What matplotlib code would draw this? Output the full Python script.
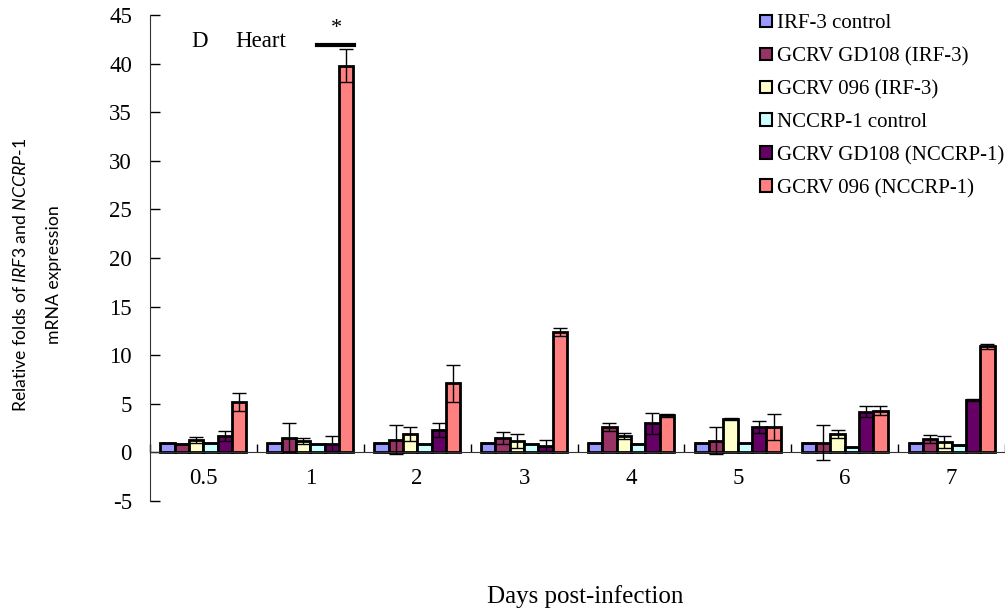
import matplotlib
matplotlib.use("Agg")
import matplotlib.pyplot as plt
import numpy as np

days = ["0.5", "1", "2", "3", "4", "5", "6", "7"]
series_names = ["IRF-3 control", "GCRV GD108 (IRF-3)", "GCRV 096 (IRF-3)",
                "NCCRP-1 control", "GCRV GD108 (NCCRP-1)", "GCRV 096 (NCCRP-1)"]
colors = ["#9999FF", "#993366", "#FFFFCC", "#CCFFFF", "#660066", "#FF8080"]

irf3_control = [1.0, 1.0, 1.0, 1.0, 1.0, 1.0, 1.0, 1.0]
gd108_irf3 = [0.9, 1.5, 1.3, 1.5, 2.6, 1.2, 1.0, 1.4]
gcrv096_irf3 = [1.3, 1.2, 1.9, 1.2, 1.7, 3.4, 1.9, 1.1]
nccrp1_control = [1.0, 0.85, 0.9, 0.9, 0.9, 1.0, 0.6, 0.8]
gd108_nccrp1 = [1.7, 0.9, 2.3, 0.7, 3.0, 2.6, 4.2, 5.4]
gcrv096_nccrp1 = [5.2, 39.8, 7.1, 12.4, 3.8, 2.6, 4.3, 10.9]

err_irf3_control = [0, 0, 0, 0, 0, 0, 0, 0]
err_gd108_irf3 = [0.0, 1.5, 1.5, 0.6, 0.4, 1.4, 1.8, 0.4]
err_gcrv096_irf3 = [0.3, 0.3, 0.7, 0.7, 0.3, 0.1, 0.4, 0.6]
err_nccrp1_control = [0, 0, 0, 0, 0, 0, 0, 0]
err_gd108_nccrp1 = [0.5, 0.8, 0.7, 0.6, 1.1, 0.6, 0.6, 0.1]
err_gcrv096_nccrp1 = [0.9, 1.7, 1.9, 0.4, 0.2, 1.3, 0.5, 0.3]

values = [irf3_control, gd108_irf3, gcrv096_irf3, nccrp1_control, gd108_nccrp1, gcrv096_nccrp1]
errors = [err_irf3_control, err_gd108_irf3, err_gcrv096_irf3, err_nccrp1_control,
          err_gd108_nccrp1, err_gcrv096_nccrp1]

serif = ["Liberation Serif", "DejaVu Serif"]
plt.rcParams["font.family"] = serif
plt.rcParams["mathtext.fontset"] = "custom"
plt.rcParams["mathtext.it"] = "Lato:italic"
plt.rcParams["mathtext.rm"] = "Lato"

fig = plt.figure(figsize=(10.05, 6.15), dpi=100)
ax = fig.add_axes([150/1005, 1 - 501/615, 855/1005, (501-15)/615])

n = len(series_names)
w = 0.134
x = np.arange(len(days))
for i in range(n):
    pos = x + (i - (n - 1) / 2) * w
    ax.bar(pos, values[i], width=w, color=colors[i], edgecolor="black",
           linewidth=2.0, label=series_names[i], zorder=2)
    ax.errorbar(pos, values[i], yerr=errors[i], fmt="none", ecolor="black",
                elinewidth=1.0, capsize=5, capthick=1.0, zorder=3)

ax.set_xlim(-0.5, 7.45)
ax.set_ylim(-5, 45)
ax.set_yticks(np.arange(-5, 46, 5))
ax.set_yticklabels([str(v) for v in range(-5, 46, 5)], fontsize=16.5)
ax.tick_params(axis="y", direction="in", length=7, width=1, pad=13)

ax.spines["top"].set_visible(False)
ax.spines["right"].set_visible(False)
ax.spines["bottom"].set_position(("data", 0))
ax.spines["left"].set_color("#333333")
ax.spines["bottom"].set_color("#333333")

ax.set_xticks(x)
ax.set_xticklabels(days, fontsize=16.5)
ax.tick_params(axis="x", which="major", length=0, pad=11)
ax.set_xticks(np.arange(-0.5, 7.6, 1), minor=True)
ax.tick_params(axis="x", which="minor", direction="in", length=6, width=1)

fig.text(585/1005, 1 - 597/615, "Days post-infection",
         ha="center", va="center", fontsize=18)

sans = ["Lato", "DejaVu Sans"]
fig.text(21/1005, 1 - 275/615, "Relative folds of $\\mathit{IRF3}$ and $\\mathit{NCCRP}$-$\\mathit{1}$",
         rotation=90, ha="center", va="center", fontsize=12.7, family=sans)
fig.text(54/1005, 1 - 275/615, "mRNA expression",
         rotation=90, ha="center", va="center", fontsize=12.7, family=sans)

ax.text(-0.04, 42.3, "D", ha="center", va="center", fontsize=16.5)
ax.text(0.3, 42.3, "Heart", ha="left", va="center", fontsize=16.5)
star_x = 1 + (5 - (n - 1) / 2) * w
ax.plot([star_x - 0.27, star_x + 0.07], [41.9, 41.9], color="black", lw=3)
ax.text(star_x - 0.09, 43.6, "*", ha="center", va="center", fontsize=16)

leg = ax.legend(loc="upper left", bbox_to_anchor=(752/1005, 1 - 6/615),
                bbox_transform=fig.transFigure, frameon=False, fontsize=15,
                handlelength=0.55, handleheight=0.55, handletextpad=0.25,
                labelspacing=0.66, borderaxespad=0)
for p in leg.get_patches():
    p.set_linewidth(1.5)

fig.savefig("out.png", dpi=100)
